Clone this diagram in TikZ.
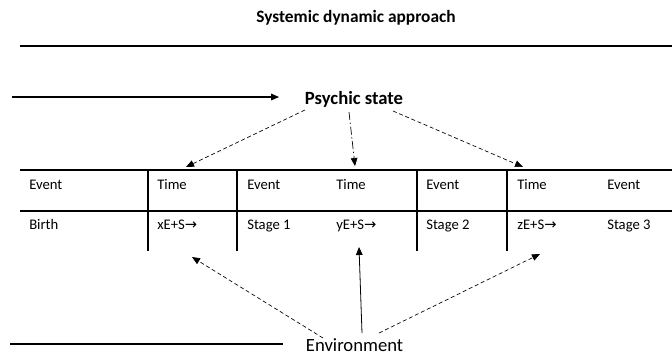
\documentclass[tikz,border=0pt]{standalone}
\usepackage{fontspec}
\setmainfont{Carlito}
\newfontfamily\arrowfont{DejaVu Sans}
\newcommand{\rarr}{{\arrowfont\fontsize{11}{13}\selectfont →}}
\usetikzlibrary{arrows.meta}
\begin{document}
\begin{tikzpicture}[x=0.75pt,y=-0.75pt,
  cell/.style={anchor=base west,inner sep=0pt,font=\fontsize{11}{13}\selectfont},
  rule/.style={line width=0.8pt},
  tip/.style={-{Triangle[length=6pt,width=5pt]}},
  dlink/.style={tip,densely dashed,line width=0.5pt},
  label/.style={inner sep=0.5pt,font=\fontsize{14}{16}\selectfont}]
\useasboundingbox (0,0) rectangle (672,355);
% title and top rule
\node[label,font=\bfseries\fontsize{13}{15}\selectfont] (title) at (356,18) {Systemic dynamic approach};
\coordinate (r1a) at (20,46); \coordinate (r1b) at (672,46);
\draw[rule] (r1a) -- (r1b);
% psychic state
\node[label,font=\bfseries\fontsize{14}{16}\selectfont,anchor=west] (psy) at (304,99) {Psychic state};
\coordinate (inarr) at (12,97);
\coordinate (inend) at (279,97);
\draw[tip,line width=0.8pt] (inarr) -- (inend);
% table
\coordinate (t1a) at (20,170); \coordinate (t1b) at (672,170);
\coordinate (t2a) at (20,211); \coordinate (t2b) at (672,211);
\draw[rule] (t1a) -- (t1b);
\draw[rule] (t2a) -- (t2b);
\foreach \x/\n in {148/v1,237/v2,417/v3,507/v4}{
  \coordinate (\n a) at (\x,170); \coordinate (\n b) at (\x,251);
  \draw[rule] (\n a) -- (\n b);
}
\node[cell] (e1) at (29,189) {Event};
\node[cell] (ti1) at (157,189) {Time};
\node[cell] (e2) at (247,189) {Event};
\node[cell] (ti2) at (336,189) {Time};
\node[cell] (e3) at (426,189) {Event};
\node[cell] (ti3) at (517,189) {Time};
\node[cell] (e4) at (607,189) {Event};
\node[cell] (b1) at (29,229) {Birth};
\node[cell] (x1) at (157,229) {xE+S\rarr};
\node[cell] (s1) at (247,229) {Stage 1};
\node[cell] (y1) at (336,229) {yE+S\rarr};
\node[cell] (s2) at (426,229) {Stage 2};
\node[cell] (z1) at (517,229) {zE+S\rarr};
\node[cell] (s3) at (607,229) {Stage 3};
% psychic arrows
\coordinate (pl) at (305,110); \coordinate (plt) at (186,167);
\coordinate (pm) at (349,112); \coordinate (pmt) at (355,166);
\coordinate (pr) at (393,111); \coordinate (prt) at (523,167);
\draw[dlink] (pl) -- (plt);
\draw[tip,dash pattern=on 6pt off 2pt on 1pt off 2pt,line width=0.5pt] (pm) -- (pmt);
\draw[dlink] (pr) -- (prt);
% environment
\node[label,anchor=west] (env) at (305,345) {Environment};
\coordinate (bl1) at (10,344); \coordinate (bl2) at (283,344);
\draw[line width=0.8pt] (bl1) -- (bl2);
\coordinate (el) at (323,338); \coordinate (elt) at (192,257);
\coordinate (em) at (362,333); \coordinate (emt) at (359,247);
\coordinate (er) at (379,333); \coordinate (ert) at (540,254);
\draw[dlink] (el) -- (elt);
\draw[tip,line width=0.6pt] (em) -- (emt);
\draw[dlink] (er) -- (ert);
\end{tikzpicture}
\end{document}
